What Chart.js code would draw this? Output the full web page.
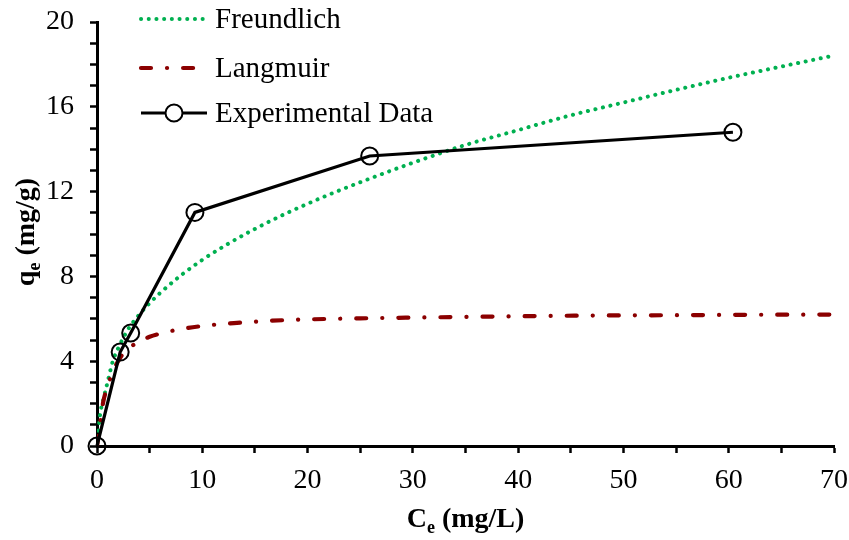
<!DOCTYPE html>
<html><head><meta charset="utf-8">
<script src="https://cdn.jsdelivr.net/npm/chart.js@4/dist/chart.umd.min.js"></script>
<style>html,body{margin:0;padding:0;background:#fff;}canvas{display:block;}</style>
</head><body>
<canvas id="c" width="849" height="540"></canvas>
<script>
// ---- data ----
const seriesNames = ['Freundlich', 'Langmuir', 'Experimental Data'];
const expC = [0, 2.2, 3.2, 9.3, 25.9, 60.4];
const expQ = [0, 4.43, 5.33, 11.02, 13.68, 14.8];
const freC = [0, 0.3, 0.6, 1, 1.5, 2, 3, 4, 5, 6, 8, 10, 12.5, 15, 18, 22, 26, 30, 35, 40, 45, 50, 55, 60, 65, 70];
const freQ = [0, 1.5, 2.2, 3.0, 4.0, 4.6, 5.54, 6.19, 6.74, 7.22, 8.06, 8.78, 9.55, 10.24, 10.98, 11.85, 12.63, 13.36, 14.2, 14.9, 15.6, 16.2, 16.8, 17.37, 17.9, 18.42];
const lanC = [0, 0.3, 0.6, 1, 1.5, 2, 2.5, 3, 4, 5, 6, 8, 10, 13, 18, 25, 32, 40, 46, 55, 62, 70];
const lanQ = [0, 1.1, 2.1, 2.8, 3.5, 4.0, 4.37, 4.6, 4.93, 5.15, 5.3, 5.52, 5.66, 5.8, 5.94, 6.02, 6.07, 6.12, 6.15, 6.17, 6.19, 6.2];
const xLabelTicks = [0, 10, 20, 30, 40, 50, 60, 70];
const yLabelTicks = [0, 4, 8, 12, 16, 20];
const xTitle = ['C', 'e', ' (mg/L)'];
const yTitle = ['q', 'e', ' (mg/g)'];

const FONT = '"Liberation Serif", "Times New Roman", serif';
const pts = (xs, ys) => xs.map((x, i) => ({x: x, y: ys[i]}));

function drawSub(ctx, parts, cx, cy, size) {
  const big = 'bold ' + size + 'px ' + FONT, small = 'bold ' + Math.round(size * 0.65) + 'px ' + FONT;
  ctx.font = big; const w1 = ctx.measureText(parts[0]).width, w3 = ctx.measureText(parts[2]).width;
  ctx.font = small; const w2 = ctx.measureText(parts[1]).width;
  let x = cx - (w1 + w2 + w3) / 2;
  ctx.textAlign = 'left'; ctx.textBaseline = 'alphabetic'; ctx.fillStyle = '#000';
  ctx.font = big; ctx.fillText(parts[0], x, cy); x += w1;
  ctx.font = small; ctx.fillText(parts[1], x, cy + size * 0.22); x += w2;
  ctx.font = big; ctx.fillText(parts[2], x, cy);
}

const overlay = {
  id: 'overlay',
  afterDraw(chart) {
    const ctx = chart.ctx, ca = chart.chartArea;
    ctx.save();
    drawSub(ctx, xTitle, (ca.left + ca.right) / 2, 527, 28);
    ctx.translate(34, (ca.top + ca.bottom) / 2 - 2);
    ctx.rotate(-Math.PI / 2);
    drawSub(ctx, yTitle, 0, 0, 28);
    ctx.restore();
    // legend
    const ys = [19, 68, 113];
    chart.data.datasets.forEach((ds, i) => {
      const y = ys[i];
      ctx.save();
      ctx.strokeStyle = ds.borderColor; ctx.lineWidth = ds.borderWidth;
      ctx.lineCap = ds.borderCapStyle || 'butt';
      ctx.setLineDash(ds.borderDash || []);
      ctx.beginPath(); ctx.moveTo(141, y); ctx.lineTo(207, y); ctx.stroke();
      if (ds.pointRadius > 0) {
        ctx.setLineDash([]);
        ctx.lineWidth = ds.pointBorderWidth;
        ctx.fillStyle = '#fff';
        ctx.beginPath(); ctx.arc(174, y, ds.pointRadius, 0, Math.PI * 2); ctx.fill(); ctx.stroke();
      }
      ctx.fillStyle = '#000'; ctx.font = '29px ' + FONT;
      ctx.textAlign = 'left'; ctx.textBaseline = 'middle';
      ctx.fillText(ds.label, 215, y + 1);
      ctx.restore();
    });
  }
};

function zeroPad(s) { s.paddingTop = 0; s.paddingBottom = 0; s.paddingLeft = 0; s.paddingRight = 0; }

new Chart(document.getElementById('c'), {
  type: 'scatter',
  data: {
    datasets: [
      {label: seriesNames[0], data: pts(freC, freQ), showLine: true, borderColor: '#00B050', borderWidth: 4,
       borderDash: [0.1, 7.6], borderCapStyle: 'round', pointRadius: 0, cubicInterpolationMode: 'monotone', order: 3},
      {label: seriesNames[1], data: pts(lanC, lanQ), showLine: true, borderColor: '#8B0000', borderWidth: 4.2,
       borderDash: [10, 16, 0.1, 16], borderCapStyle: 'round', pointRadius: 0, cubicInterpolationMode: 'monotone', order: 2},
      {label: seriesNames[2], data: pts(expC, expQ), showLine: true, borderColor: '#000', borderWidth: 3.2,
       pointRadius: 8.5, pointBorderWidth: 2, pointBorderColor: '#000', pointBackgroundColor: 'rgba(0,0,0,0)',
       pointHoverRadius: 8.5, clip: false, order: 1}
    ]
  },
  options: {
    responsive: false, animation: false,
    layout: {autoPadding: false, padding: {top: 22, right: 15, left: 0, bottom: 0}},
    plugins: {legend: {display: false}, tooltip: {enabled: false}},
    scales: {
      x: {
        type: 'linear', min: 0, max: 70,
        ticks: {stepSize: 5, autoSkip: false, maxRotation: 0, padding: 11, color: '#000',
                font: {family: FONT, size: 28},
                callback: v => xLabelTicks.includes(v) ? String(v) : ''},
        grid: {drawOnChartArea: false, drawTicks: true, tickLength: 7, tickWidth: 2.5, tickColor: '#000'},
        border: {display: true, color: '#000', width: 3},
        afterFit: s => { s.height = 94; zeroPad(s); }
      },
      y: {
        type: 'linear', min: 0, max: 20,
        ticks: {stepSize: 1, autoSkip: false, padding: 16, color: '#000',
                font: {family: FONT, size: 28},
                callback: v => yLabelTicks.includes(v) ? String(v) : ''},
        grid: {drawOnChartArea: false, drawTicks: true, tickLength: 7, tickWidth: 2.5, tickColor: '#000'},
        border: {display: true, color: '#000', width: 3},
        afterFit: s => { s.width = 97; zeroPad(s); }
      }
    }
  },
  plugins: [overlay]
});
</script>
</body></html>
